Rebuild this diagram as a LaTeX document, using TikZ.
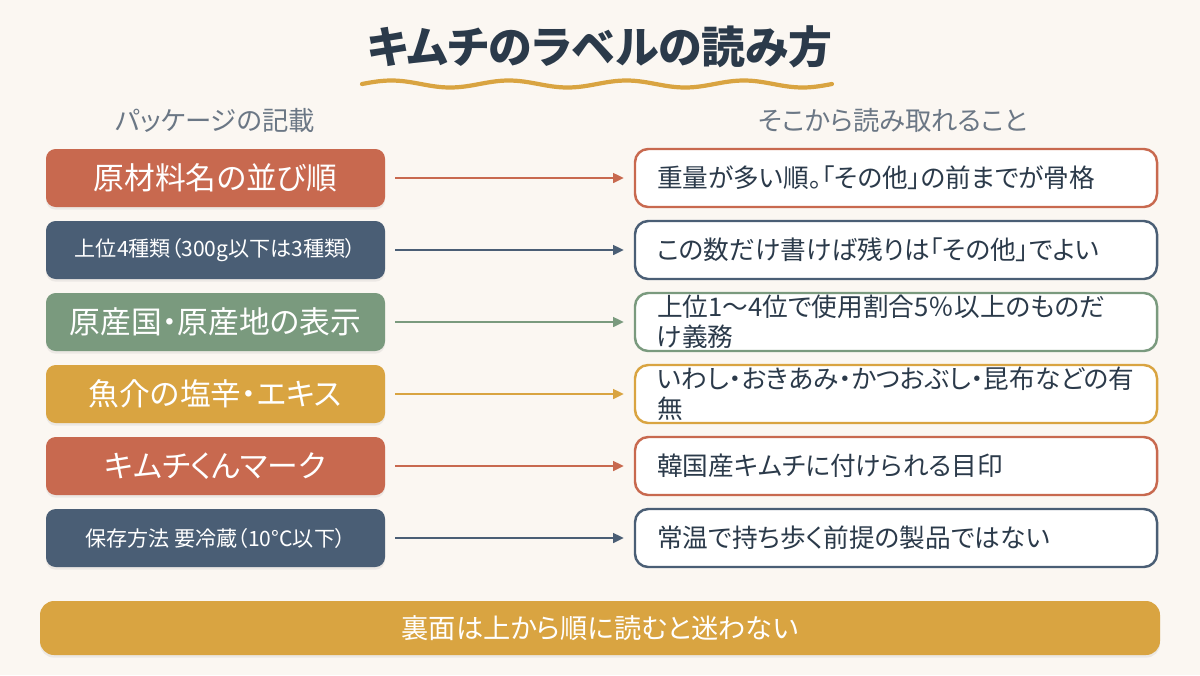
\documentclass[tikz,border=0pt]{standalone}
\usepackage{fontspec}
\setmainfont{Noto Sans CJK JP}[RawFeature={+palt}]
\usepackage{xcolor}
\usepackage{tikz}
\usetikzlibrary{arrows.meta, positioning, shadows}

\definecolor{bgcream}{HTML}{FBF7F2}
\definecolor{inkdark}{HTML}{2B3A4A}
\definecolor{headgray}{HTML}{6B7785}
\definecolor{terra}{HTML}{C8694F}
\definecolor{slate}{HTML}{4A5E75}
\definecolor{sage}{HTML}{7A9A7E}
\definecolor{gold}{HTML}{D9A441}

\begin{document}
\begin{tikzpicture}[
    font=\fontsize{14.6}{17}\selectfont,
    >={Triangle[length=6pt, width=5.5pt]},
    keybox/.style={rounded corners=5.5pt, minimum width=6.78cm, minimum height=1.16cm, inner sep=0pt, text=white, align=center, drop shadow={shadow xshift=0pt, shadow yshift=-1.5pt, opacity=0.12}},
    bigkey/.style={keybox, font=\fontsize{17.5}{20}\selectfont},
    smallkey/.style={keybox, font=\fontsize{12}{14}\selectfont},
    readbox/.style={draw, line width=1.4pt, fill=white, rounded corners=7.5pt, minimum height=1.16cm, text width=9.56cm, inner xsep=0.44cm, inner ysep=0pt, align=left, text=inkdark},
    link/.style={->, line width=1.1pt, shorten <=0.2cm, shorten >=0.2cm},
    head/.style={text=headgray, font=\fontsize{15}{18}\selectfont},
    banner/.style={fill=gold, rounded corners=8pt, minimum width=22.4cm, minimum height=1.08cm, text=white, font=\fontsize{15.5}{18}\selectfont, drop shadow={shadow xshift=0pt, shadow yshift=-1.5pt, opacity=0.12}}
]

% CANVAS
\fill[bgcream] (0,0) rectangle (24,-13.5);
\useasboundingbox (0,0) rectangle (24,-13.5);

% TITLE
\node[text=inkdark, font=\bfseries\fontsize{25}{30}\selectfont] (title) at (12,-0.94) {キムチのラベルの読み方};
\draw[gold, line width=2.4pt, line cap=round] plot[domain=7.24:16.64, samples=120, smooth] (\x, {-1.68 + 0.07*sin(360*(\x-7.24)/2.35)});

% COLUMN HEADS
\node[head] (head_l) at (4.3,-2.4) {パッケージの記載};
\node[head] (head_r) at (17.86,-2.4) {そこから読み取れること};

% LABEL ITEMS
\node[bigkey, fill=terra] (l_ingr) at (4.31,-3.56) {原材料名の並び順};
\node[smallkey, fill=slate] (l_top) at (4.31,-5.0) {上位4種類（300g以下は3種類）};
\node[bigkey, fill=sage] (l_origin) at (4.31,-6.44) {原産国・原産地の表示};
\node[bigkey, fill=gold] (l_fish) at (4.31,-7.88) {魚介の塩辛・エキス};
\node[bigkey, fill=terra] (l_mark) at (4.31,-9.32) {キムチくんマーク};
\node[smallkey, fill=slate] (l_store) at (4.31,-10.76) {保存方法 要冷蔵（10°C以下）};

% WHAT IT TELLS
\node[readbox, draw=terra] (r_ingr) at (17.92,-3.56) {重量が多い順。「その他」の前までが骨格};
\node[readbox, draw=slate] (r_top) at (17.92,-5.0) {この数だけ書けば残りは「その他」でよい};
\node[readbox, draw=sage] (r_origin) at (17.92,-6.44) {上位1〜4位で使用割合5％以上のものだ\\け義務};
\node[readbox, draw=gold] (r_fish) at (17.92,-7.88) {いわし・おきあみ・かつおぶし・昆布などの有\\無};
\node[readbox, draw=terra] (r_mark) at (17.92,-9.32) {韓国産キムチに付けられる目印};
\node[readbox, draw=slate] (r_store) at (17.92,-10.76) {常温で持ち歩く前提の製品ではない};

% ARROWS
\draw[link, terra] (l_ingr) -- (r_ingr);
\draw[link, slate] (l_top) -- (r_top);
\draw[link, sage] (l_origin) -- (r_origin);
\draw[link, gold] (l_fish) -- (r_fish);
\draw[link, terra] (l_mark) -- (r_mark);
\draw[link, slate] (l_store) -- (r_store);

% SUMMARY
\node[banner] (summary) at (12,-12.56) {裏面は上から順に読むと迷わない};

\end{tikzpicture}
\end{document}
